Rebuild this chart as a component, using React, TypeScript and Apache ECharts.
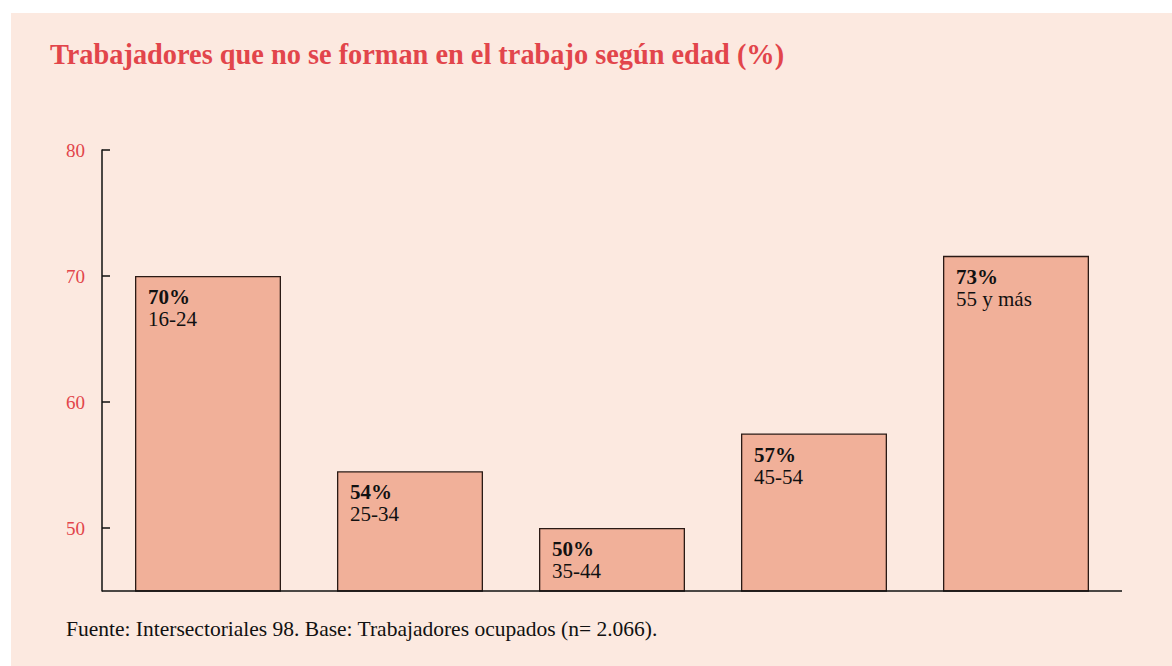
import React, { useEffect, useRef } from "react";
import * as echarts from "echarts";

const categories = ["16-24", "25-34", "35-44", "45-54", "55 y más"];
const barValues = [70, 54.5, 50, 57.5, 71.6];
const pctLabels = ["70%", "54%", "50%", "57%", "73%"];
const yTicks = [50, 60, 70, 80];

const TITLE = "Trabajadores que no se forman en el trabajo según edad (%)";
const SOURCE = "Fuente: Intersectoriales 98. Base: Trabajadores ocupados (n= 2.066).";

const RED = "#E2454B";
const BG = "#FCE9E0";
const SERIF = "'Liberation Serif', 'DejaVu Serif', serif";

export default function App() {
  const ref = useRef<HTMLDivElement>(null);
  useEffect(() => {
    if (!ref.current) return;
    const chart = echarts.init(ref.current, undefined, { renderer: "svg" });
    chart.setOption({
      animation: false,
      backgroundColor: BG,
      textStyle: { fontFamily: SERIF },
      grid: { left: 96, right: 55, top: 137, bottom: 75 },
      graphic: [
        {
          type: "text",
          left: 39,
          top: 26,
          scaleX: 0.945,
          style: {
            text: TITLE,
            fill: RED,
            font: `bold 30px ${SERIF}`,
          },
        },
        {
          type: "text",
          left: 55,
          top: 605,
          style: {
            text: SOURCE,
            fill: "#111",
            font: `21.5px ${SERIF}`,
          },
        },
        {
          type: "line",
          shape: { x1: 91, y1: 578, x2: 1111, y2: 578 },
          style: { stroke: "#111", lineWidth: 1.5 },
          z: 10,
        },
      ],
      xAxis: {
        type: "category",
        data: categories,
        axisLine: { show: false },
        axisTick: { show: false },
        axisLabel: { show: false },
      },
      yAxis: {
        type: "value",
        min: 45,
        max: 80,
        offset: 5,
        splitLine: { show: false },
        axisLine: { show: true, lineStyle: { color: "#111", width: 1.5 } },
        axisTick: {
          show: true,
          inside: true,
          length: 8,
          customValues: yTicks,
          lineStyle: { color: "#111", width: 1.5 },
        },
        axisLabel: {
          customValues: yTicks,
          color: RED,
          fontFamily: SERIF,
          fontSize: 19,
          margin: 17,
        },
      },
      series: [
        {
          type: "bar",
          data: barValues,
          barWidth: 146,
          itemStyle: {
            color: "#F1B099",
            borderColor: "#2a1a15",
            borderWidth: 1.3,
          },
          label: {
            show: true,
            position: [13, 10],
            formatter: (p: any) => `{b|${pctLabels[p.dataIndex]}}\n{n|${categories[p.dataIndex]}}`,
            rich: {
              b: { fontFamily: SERIF, fontWeight: "bold", fontSize: 21, color: "#111", lineHeight: 22 },
              n: { fontFamily: SERIF, fontSize: 21, color: "#111", lineHeight: 22 },
            },
          },
        },
      ],
    });
    return () => chart.dispose();
  }, []);
  return (
    <div
      ref={ref}
      style={{ position: "absolute", left: 11, top: 13, width: 1161, height: 653 }}
    />
  );
}
